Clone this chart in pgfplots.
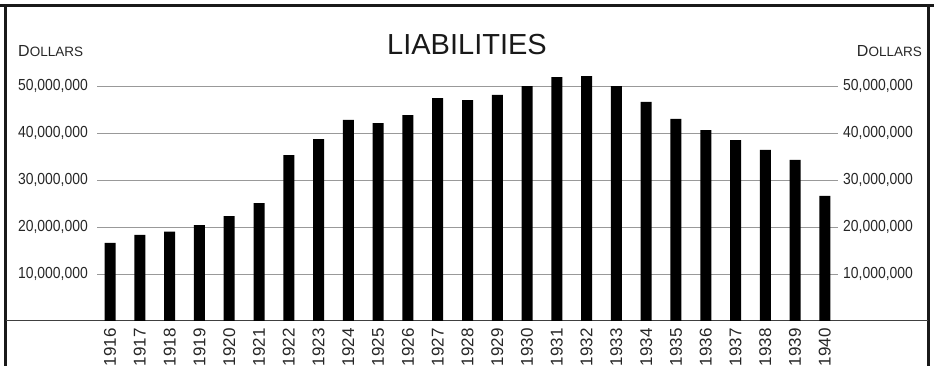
\documentclass[border=0pt]{standalone}
\usepackage{pgfplots}
\pgfplotsset{compat=1.18}
\usepackage{fontspec}
\setmainfont{Liberation Sans}
\newfontfamily\numfont[FakeStretch=0.87]{Liberation Sans}

\newcommand{\dollarsword}{{\fontsize{16}{18}\selectfont D\fontsize{13.5}{15}\selectfont OLLARS}}

\begin{document}
\begin{tikzpicture}[x=1pt,y=1pt]
\useasboundingbox (0,0) rectangle (934,366);
% frame and base rule
\draw[line width=3pt,black!90] (0,360) -- (934,360);
\draw[line width=3pt,black!90] (5,0) -- (5,361.5);
\draw[line width=2.5pt,black!90] (928.5,0) -- (928.5,361.5);
\draw[line width=1pt,black!75] (6,45) -- (928,45);

% headings
\node[anchor=base,inner sep=0pt,text=black!90] at (467,311)
  {\fontsize{29}{33}\selectfont LIABILITIES};
\node[anchor=base west,inner sep=0pt,text=black!85] at (18,309) {\dollarsword};
\node[anchor=base east,inner sep=0pt,text=black!85] at (922,309) {\dollarsword};

\begin{axis}[
  scale only axis,
  width=741pt, height=258.5pt,
  at={(97pt,45pt)}, anchor=south west,
  xmin=1915.56, xmax=1940.44,
  ymin=0, ymax=55000000,
  scaled y ticks=false,
  axis line style={draw=none},
  major tick length=0pt,
  tick style={draw=none},
  xtick={1916,1917,...,1940},
  xticklabels={1916,1917,1918,1919,1920,1921,1922,1923,1924,1925,1926,1927,
    1928,1929,1930,1931,1932,1933,1934,1935,1936,1937,1938,1939,1940},
  xticklabel style={rotate=90, anchor=east, inner sep=0pt,
    font=\fontsize{17}{19}\selectfont, text=black!85},
  xticklabel shift=7pt,
  ytick={10000000,20000000,30000000,40000000,50000000},
  yticklabels={{10,000,000},{20,000,000},{30,000,000},{40,000,000},{50,000,000}},
  yticklabel style={anchor=east, inner sep=0pt, xshift=-9pt,
    font=\numfont\fontsize{16}{18}\selectfont, text=black!85},
  ymajorgrids,
  grid style={black!40, line width=0.9pt},
  clip=false,
]
\addplot[ybar, bar width=11pt, fill=black, draw=none] coordinates {
  (1916,16600000) (1917,18300000) (1918,19000000) (1919,20400000)
  (1920,22300000) (1921,25100000) (1922,35300000) (1923,38700000)
  (1924,42800000) (1925,42100000) (1926,43800000) (1927,47400000)
  (1928,47000000) (1929,48100000) (1930,50000000) (1931,51900000)
  (1932,52100000) (1933,50000000) (1934,46600000) (1935,43000000)
  (1936,40600000) (1937,38500000) (1938,36400000) (1939,34300000)
  (1940,26600000)
};
\end{axis}

% right-hand scale
\begin{axis}[
  scale only axis,
  width=741pt, height=258.5pt,
  at={(97pt,45pt)}, anchor=south west,
  xmin=1915.56, xmax=1940.44,
  ymin=0, ymax=55000000,
  scaled y ticks=false,
  hide x axis,
  axis line style={draw=none},
  major tick length=0pt,
  tick style={draw=none},
  yticklabel pos=right,
  ytick={10000000,20000000,30000000,40000000,50000000},
  yticklabels={{10,000,000},{20,000,000},{30,000,000},{40,000,000},{50,000,000}},
  yticklabel style={anchor=west, inner sep=0pt, xshift=5pt,
    font=\numfont\fontsize{16}{18}\selectfont, text=black!85},
]
\end{axis}
\end{tikzpicture}
\end{document}
